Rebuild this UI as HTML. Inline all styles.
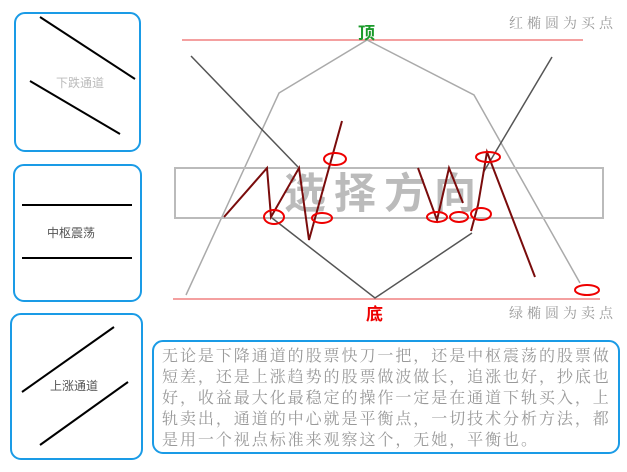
<!DOCTYPE html>
<html><head><meta charset="utf-8"><style>
body{margin:0;width:627px;height:472px;background:#fff;overflow:hidden;position:relative;font-family:"Liberation Sans","Noto Sans CJK SC",sans-serif}
.box{position:absolute;border:2px solid #1a9be6;border-radius:11px;box-sizing:border-box}
.t{position:absolute;white-space:nowrap}
.p div{height:21px;white-space:nowrap}
</style></head><body>
<div class="box" style="left:14px;top:12px;width:127px;height:140px"></div>
<div class="box" style="left:13px;top:164px;width:129px;height:138px"></div>
<div class="box" style="left:10px;top:313px;width:133px;height:147px"></div>
<div class="box" style="left:152px;top:340px;width:468px;height:114px"></div>
<svg width="627" height="472" style="position:absolute;left:0;top:0">
<g stroke="#000" stroke-width="2">
<line x1="40" y1="17" x2="135" y2="79"/><line x1="30" y1="81" x2="120" y2="134"/>
<line x1="22" y1="205" x2="132" y2="205"/><line x1="22" y1="258" x2="132" y2="258"/>
<line x1="22" y1="392" x2="114" y2="327"/><line x1="40" y1="445" x2="128" y2="382"/>
</g>
<line x1="182" y1="40" x2="583" y2="40" stroke="#f08080" stroke-width="1.5"/>
<line x1="173" y1="299" x2="600" y2="299" stroke="#f08080" stroke-width="1.5"/>
<polyline points="186,295 279,93 367,40 474,95 580,283" fill="none" stroke="#aaa" stroke-width="1.5"/>
<rect x="175" y="168" width="428" height="50" fill="none" stroke="#bbb" stroke-width="2"/>
<text x="384" y="208" text-anchor="middle" font-size="42" font-weight="bold" fill="#bbb" letter-spacing="8" font-family="Liberation Sans,Noto Sans CJK SC,sans-serif">选择方向</text>
<g stroke="#555" stroke-width="1.5" fill="none">
<line x1="191" y1="56" x2="298" y2="167"/>
<polyline points="272,218 375,298 472,233"/>
<line x1="483" y1="173" x2="552" y2="57"/>
</g>
<g stroke="#7a0c0c" stroke-width="2" fill="none">
<polyline points="224,217 267,168 271,217 299,168 309,240 342,121"/>
<polyline points="418,168 437,220 449,168 463,203"/>
<polyline points="471,231 478,205 487,152 535,277"/>
</g>
<g stroke="#e00" stroke-width="2" fill="none">
<ellipse cx="274" cy="217" rx="10" ry="7"/><ellipse cx="335" cy="159" rx="11" ry="6"/>
<ellipse cx="322" cy="218" rx="10" ry="5"/><ellipse cx="437" cy="217" rx="10" ry="5"/>
<ellipse cx="459" cy="217" rx="9" ry="5"/><ellipse cx="481" cy="214" rx="10" ry="6"/>
<ellipse cx="488" cy="157" rx="12" ry="5"/><ellipse cx="587" cy="290" rx="12" ry="5"/>
</g>
</svg>
<div class="t" style="left:358px;top:19px;font-size:17px;font-weight:bold;color:#1a9a2a">顶</div>
<div class="t" style="left:366px;top:300px;font-size:17px;font-weight:bold;color:#e00">底</div>
<div class="t" style="left:509px;top:13px;font-size:14px;color:#999;letter-spacing:4px;font-family:'Liberation Serif','Noto Serif CJK SC',serif">红椭圆为买点</div>
<div class="t" style="left:509px;top:303px;font-size:14px;color:#999;letter-spacing:4px;font-family:'Liberation Serif','Noto Serif CJK SC',serif">绿椭圆为卖点</div>
<div class="t" style="left:56px;top:74px;font-size:12px;color:#bbb">下跌通道</div>
<div class="t" style="left:47px;top:224px;font-size:12px;color:#555">中枢震荡</div>
<div class="t" style="left:50px;top:377px;font-size:12px;color:#555">上涨通道</div>
<div class="t p" style="left:162px;top:346px;font-size:16px;line-height:21px;letter-spacing:1.95px;color:#999;font-family:'Liberation Serif','Noto Serif CJK SC',serif">
<div>无论是下降通道的股票快刀一把，还是中枢震荡的股票做</div>
<div>短差，还是上涨趋势的股票做波做长，追涨也好，抄底也</div>
<div>好，收益最大化最稳定的操作一定是在通道下轨买入，上</div>
<div>轨卖出，通道的中心就是平衡点，一切技术分析方法，都</div>
<div>是用一个视点标准来观察这个，无她，平衡也。</div>
</div>
</body></html>
